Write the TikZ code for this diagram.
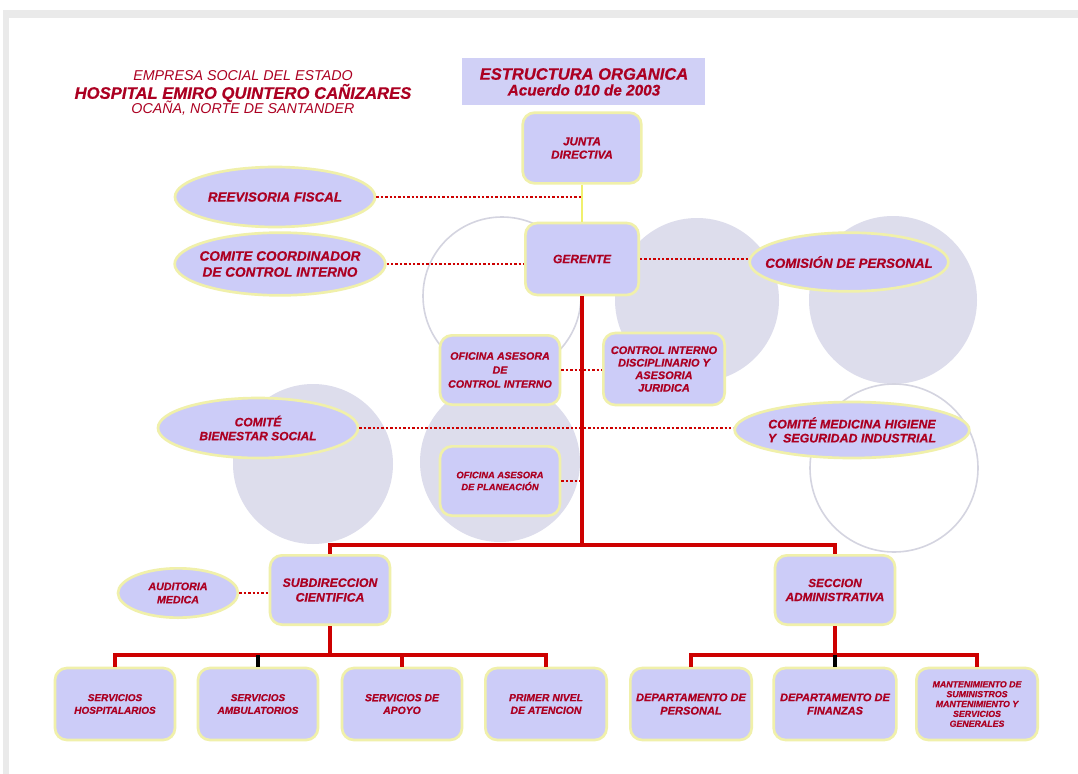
\documentclass[tikz,border=0pt]{standalone}
\usepackage{fontspec}
\setmainfont{Liberation Sans}
\newfontfamily\heavyfont{Liberation Sans}[BoldItalicFeatures={FakeBold=0.6}]
\usetikzlibrary{shapes.geometric}
\definecolor{lav}{RGB}{204,204,248}
\definecolor{titlelav}{RGB}{208,208,246}
\definecolor{circ}{RGB}{221,221,236}
\definecolor{circline}{RGB}{212,212,224}
\definecolor{txtred}{RGB}{172,0,34}
\definecolor{linered}{RGB}{205,0,0}
\definecolor{glow}{RGB}{240,240,170}
\definecolor{yline}{RGB}{240,240,110}
\definecolor{framegray}{RGB}{234,234,234}
\newcommand\myfs[2]{\fontsize{#1}{#2}\selectfont}
\newcommand\hv{\heavyfont\bfseries\itshape}
\tikzset{
  orgbox/.style={rectangle, rounded corners=9pt, fill=lav, draw=glow, line width=2pt,
    align=center, text=txtred, inner sep=2pt},
  orgell/.style={ellipse, fill=lav, draw=glow, line width=2pt,
    align=center, text=txtred, inner sep=-14pt},
  solidred/.style={draw=linered, line width=2.6pt},
  dotred/.style={draw=linered, line width=2pt, dash pattern=on 1.8pt off 1.5pt},
  bgcirc/.style={fill=circ},
  bgring/.style={draw=circline, line width=1.2pt},
  hdr/.style={text=txtred, inner sep=0pt},
}
\begin{document}
\begin{tikzpicture}[x=0.75pt,y=-0.75pt]
\useasboundingbox (0,0) rectangle (1078,774);
% frame
\fill[framegray] (3,10) rectangle (1078,774);
\fill[white] (9,18) rectangle (1078,774);
% background circles
\fill[bgcirc] (697,300) circle[radius=82];
\fill[bgcirc] (893,300) circle[radius=84];
\fill[bgcirc] (313,464) circle[radius=80];
\fill[bgcirc] (500,462) circle[radius=80];
\draw[bgring] (502,296) circle[radius=79];
\draw[bgring] (894,468) circle[radius=84];
% header
\node[hdr, font=\itshape\myfs{10.7}{12}] (h1) at (243,76) {EMPRESA SOCIAL DEL ESTADO};
\node[hdr, font=\hv\myfs{12.5}{14}] (h2) at (243,93) {HOSPITAL EMIRO QUINTERO CAÑIZARES};
\node[hdr, font=\itshape\myfs{10.7}{12}] (h3) at (243,108) {OCAÑA, NORTE DE SANTANDER};
% title
\fill[titlelav] (462,58) rectangle (705,105);
\node[hdr, font=\hv\myfs{12.4}{14}] (t1) at (584,74) {ESTRUCTURA ORGANICA};
\node[hdr, font=\hv\myfs{11.5}{13}] (t2) at (584,90) {Acuerdo 010 de 2003};
% main boxes
\node[orgbox, minimum width=89pt, minimum height=53pt, font=\hv\myfs{8.7}{10}] (junta) at (582,148) {JUNTA\\DIRECTIVA};
\node[orgbox, minimum width=85pt, minimum height=54pt, font=\hv\myfs{9}{10}] (ger) at (582,259) {GERENTE};
\node[orgbox, minimum width=90pt, minimum height=52pt, font=\hv\myfs{8}{10.5}] (ofci) at (500,370) {OFICINA ASESORA\\DE\\CONTROL INTERNO};
\node[orgbox, minimum width=91pt, minimum height=54pt, font=\hv\myfs{8.2}{9.4}] (cid) at (664,369) {CONTROL INTERNO\\DISCIPLINARIO Y\\ASESORIA\\JURIDICA};
\node[orgbox, minimum width=90pt, minimum height=52pt, font=\hv\myfs{7}{9}] (plan) at (500,481) {OFICINA ASESORA\\DE PLANEACIÓN};
\node[orgbox, minimum width=90pt, minimum height=52pt, font=\hv\myfs{9.2}{11}] (subd) at (330,590) {SUBDIRECCION\\CIENTIFICA};
\node[orgbox, minimum width=90pt, minimum height=52pt, font=\hv\myfs{8.8}{10.5}] (secc) at (835,590) {SECCION\\ADMINISTRATIVA};
% ellipses
\node[orgell, minimum width=150pt, minimum height=45pt, font=\hv\myfs{10}{12}] (reev) at (275,197) {REEVISORIA FISCAL};
\node[orgell, minimum width=158pt, minimum height=47pt, font=\hv\myfs{10.2}{12}] (ccci) at (280,264) {COMITE COORDINADOR\\DE CONTROL INTERNO};
\node[orgell, minimum width=149pt, minimum height=44pt, font=\hv\myfs{10}{12}] (comp) at (849,262) {COMISIÓN DE PERSONAL};
\node[orgell, minimum width=150pt, minimum height=45pt, font=\hv\myfs{9}{10.5}] (cbs) at (258,428) {COMITÉ\\BIENESTAR SOCIAL};
\node[orgell, minimum width=176pt, minimum height=42pt, font=\hv\myfs{9.3}{10.5}] (cmh) at (852,430) {COMITÉ MEDICINA HIGIENE\\Y~~SEGURIDAD INDUSTRIAL};
\node[orgell, minimum width=90pt, minimum height=37pt, font=\hv\myfs{8}{10}] (audm) at (178,593) {AUDITORIA\\MEDICA};
% bottom boxes
\node[orgbox, minimum width=90pt, minimum height=54pt, font=\hv\myfs{7.5}{9.5}] (b1) at (115,704) {SERVICIOS\\HOSPITALARIOS};
\node[orgbox, minimum width=90pt, minimum height=54pt, font=\hv\myfs{7.5}{9.5}] (b2) at (258,704) {SERVICIOS\\AMBULATORIOS};
\node[orgbox, minimum width=90pt, minimum height=54pt, font=\hv\myfs{7.8}{9.5}] (b3) at (402,704) {SERVICIOS DE\\APOYO};
\node[orgbox, minimum width=91pt, minimum height=54pt, font=\hv\myfs{7.8}{9.5}] (b4) at (546,704) {PRIMER NIVEL\\DE ATENCION};
\node[orgbox, minimum width=91pt, minimum height=54pt, font=\hv\myfs{8.3}{10}] (d1) at (691,704) {DEPARTAMENTO DE\\PERSONAL};
\node[orgbox, minimum width=92pt, minimum height=54pt, font=\hv\myfs{8.3}{10}] (d2) at (835,704) {DEPARTAMENTO DE\\FINANZAS};
\node[orgbox, minimum width=91pt, minimum height=54pt, font=\hv\myfs{6.6}{7.4}] (d3) at (977,704) {MANTENIMIENTO DE\\SUMINISTROS\\MANTENIMIENTO Y\\SERVICIOS\\GENERALES};
% coordinates
\coordinate (rf) at (582,197);
\coordinate (hub) at (582,545);
\coordinate (plj) at (582,481);
\coordinate (hubL) at (330,655);
\coordinate (hubR) at (835,655);
% connectors
\draw[draw=yline, line width=1.4pt] (junta.south) -- (ger.north);
\draw[dotred] (reev.east) -- (rf);
\draw[dotred] (ccci.east) -- (ccci.east -| ger.west);
\draw[dotred] (ger.east) -- (ger.east -| comp.west);
\draw[dotred] (ofci.east) -- (ofci.east -| cid.west);
\draw[dotred] (cbs.east) -- (cbs.east -| cmh.west);
\draw[dotred] (plan.east) -- (plj);
\draw[dotred] (audm.east) -- (audm.east -| subd.west);
\draw[solidred] (ger.south) -- (hub);
\draw[solidred] (subd.north) |- (hub) -| (secc.north);
\draw[solidred] (subd.south) -- (hubL);
\draw[solidred] (b1.north) |- (hubL) -| (b4.north);
\draw[solidred] (b3.north) -- (b3.north |- hubL);
\draw[draw=black, line width=2.6pt] (b2.north) -- (b2.north |- hubL);
\draw[solidred] (secc.south) -- (hubR);
\draw[solidred] (d1.north) |- (hubR) -| (d3.north);
\draw[draw=black, line width=2.6pt] (d2.north) -- (d2.north |- hubR);
\end{tikzpicture}
\end{document}
